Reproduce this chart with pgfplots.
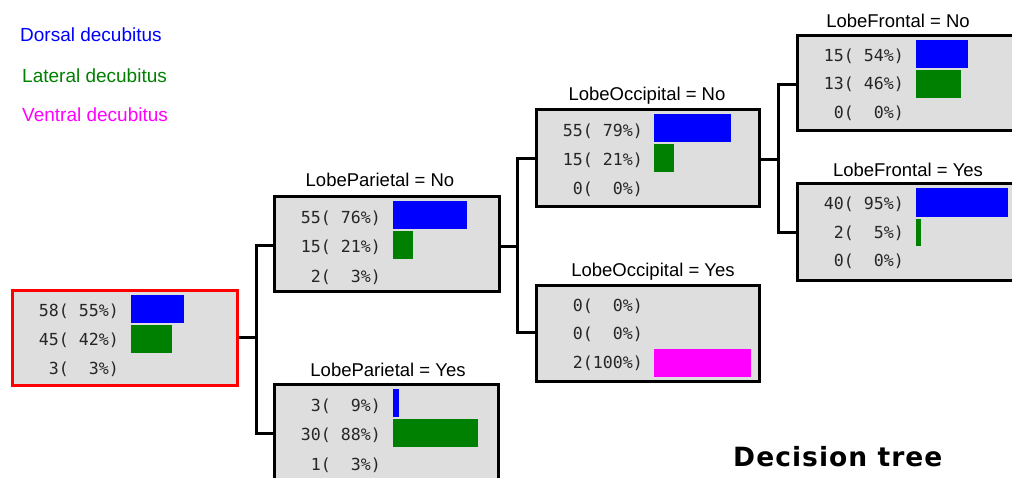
\documentclass[border=0pt]{standalone}
\usepackage{pgfplots}
\pgfplotsset{compat=1.18}
\usepackage{fontspec}
\setmainfont{Liberation Sans}
\newfontfamily\monof{DejaVu Sans Mono}
\newfontfamily\dvs{DejaVu Sans}
\definecolor{boxgray}{HTML}{DEDEDE}
\definecolor{cblue}{HTML}{0000FF}
\definecolor{cgreen}{HTML}{008000}
\definecolor{cmag}{HTML}{FF00FF}
\pgfplotsset{
  bx/.style={fill=boxgray, draw=black, line width=3pt, mark=none},
  ln/.style={draw=black, line width=3pt, mark=none},
  br/.style={fill=#1, draw=none, mark=none},
}
\tikzset{
  ttl/.style={anchor=base, inner sep=0pt, font=\fontsize{18.5}{18.5}\selectfont},
  num/.style={anchor=base east, inner sep=0pt, font=\monof\fontsize{16.6}{16.6}\selectfont, text=black!85},
  leg/.style={anchor=base west, inner sep=0pt, font=\fontsize{19}{19}\selectfont},
}
\begin{document}
\begin{tikzpicture}
\begin{axis}[name=ax, width=1012pt, height=477pt, scale only axis,
  xmin=0, xmax=1012, ymin=0, ymax=477, y dir=reverse, hide axis, clip=true]
% connectors
\addplot[ln] coordinates {(237,337) (256,337)};
\addplot[ln] coordinates {(274,245) (256,245) (256,433) (274,433)};
\addplot[ln] coordinates {(499,246) (517,246)};
\addplot[ln] coordinates {(536,158) (517,158) (517,332) (536,332)};
\addplot[ln] coordinates {(759,159) (778,159)};
\addplot[ln] coordinates {(797,84) (778,84) (778,232) (797,232)};
% boxes
\addplot[bx, draw=red] coordinates {(12,290) (237,290) (237,385) (12,385)} -- cycle;
\addplot[bx] coordinates {(274,196) (499,196) (499,291) (274,291)} -- cycle;
\addplot[bx] coordinates {(274,384) (498,384) (498,495) (274,495)} -- cycle;
\addplot[bx] coordinates {(536,109) (759,109) (759,206) (536,206)} -- cycle;
\addplot[bx] coordinates {(536,285) (759,285) (759,381) (536,381)} -- cycle;
\addplot[bx] coordinates {(797,35) (1040,35) (1040,130) (797,130)} -- cycle;
\addplot[bx] coordinates {(797,183) (1040,183) (1040,280) (797,280)} -- cycle;
% bars (length = percent x 0.97)
% root: 55%, 42%, 3%
\addplot[br=cblue]  coordinates {(131,295) (184.4,295) (184.4,323) (131,323)} -- cycle;
\addplot[br=cgreen] coordinates {(131,325) (171.7,325) (171.7,353) (131,353)} -- cycle;
% LobeParietal = No: 76%, 21%, 3%
\addplot[br=cblue]  coordinates {(393,201) (466.7,201) (466.7,229) (393,229)} -- cycle;
\addplot[br=cgreen] coordinates {(393,231) (413.4,231) (413.4,259) (393,259)} -- cycle;
% LobeParietal = Yes: 9%, 88%, 3%
\addplot[br=cblue]  coordinates {(393,389) (399,389) (399,417) (393,417)} -- cycle;
\addplot[br=cgreen] coordinates {(393,419) (478.4,419) (478.4,447) (393,447)} -- cycle;
% LobeOccipital = No: 79%, 21%, 0%
\addplot[br=cblue]  coordinates {(654,114) (730.6,114) (730.6,142) (654,142)} -- cycle;
\addplot[br=cgreen] coordinates {(654,144) (674.4,144) (674.4,172) (654,172)} -- cycle;
% LobeOccipital = Yes: 0%, 0%, 100%
\addplot[br=cmag]   coordinates {(654,349) (751,349) (751,377) (654,377)} -- cycle;
% LobeFrontal = No: 54%, 46%, 0%
\addplot[br=cblue]  coordinates {(916,40) (968.4,40) (968.4,68) (916,68)} -- cycle;
\addplot[br=cgreen] coordinates {(916,70) (960.6,70) (960.6,98) (916,98)} -- cycle;
% LobeFrontal = Yes: 95%, 5%, 0%
\addplot[br=cblue]  coordinates {(916,188) (1008.2,188) (1008.2,217) (916,217)} -- cycle;
\addplot[br=cgreen] coordinates {(916,219) (920.9,219) (920.9,246) (916,246)} -- cycle;
% titles
\node[ttl] at (380,186) {LobeParietal = No};
\node[ttl] at (388,376) {LobeParietal = Yes};
\node[ttl] at (647,100) {LobeOccipital = No};
\node[ttl] at (653,276) {LobeOccipital = Yes};
\node[ttl] at (898,27) {LobeFrontal = No};
\node[ttl] at (908,176) {LobeFrontal = Yes};
% counts
\node[num] at (119,316) {58(~55\%)};
\node[num] at (119,345) {45(~42\%)};
\node[num] at (119,374) {3(~~3\%)};
\node[num] at (381,223) {55(~76\%)};
\node[num] at (381,252) {15(~21\%)};
\node[num] at (381,282) {2(~~3\%)};
\node[num] at (381,411) {3(~~9\%)};
\node[num] at (381,440) {30(~88\%)};
\node[num] at (381,470) {1(~~3\%)};
\node[num] at (643,136) {55(~79\%)};
\node[num] at (643,165) {15(~21\%)};
\node[num] at (643,194) {0(~~0\%)};
\node[num] at (643,311) {0(~~0\%)};
\node[num] at (643,339) {0(~~0\%)};
\node[num] at (643,368) {2(100\%)};
\node[num] at (904,61) {15(~54\%)};
\node[num] at (904,89) {13(~46\%)};
\node[num] at (904,118) {0(~~0\%)};
\node[num] at (904,209) {40(~95\%)};
\node[num] at (904,238) {2(~~5\%)};
\node[num] at (904,266) {0(~~0\%)};
% legend
\node[leg, text=cblue] at (20,41) {Dorsal decubitus};
\node[leg, text=cgreen] at (22,82) {Lateral decubitus};
\node[leg, text=cmag] at (22,121) {Ventral decubitus};
% title
\node[anchor=base west, inner sep=0pt, font=\dvs\bfseries\fontsize{26.5}{26.5}\selectfont\addfontfeature{LetterSpace=4}] at (733,466) {Decision tree};
\end{axis}
\pgfresetboundingbox
\path (ax.south west) rectangle (ax.north east);
\end{tikzpicture}
\end{document}
